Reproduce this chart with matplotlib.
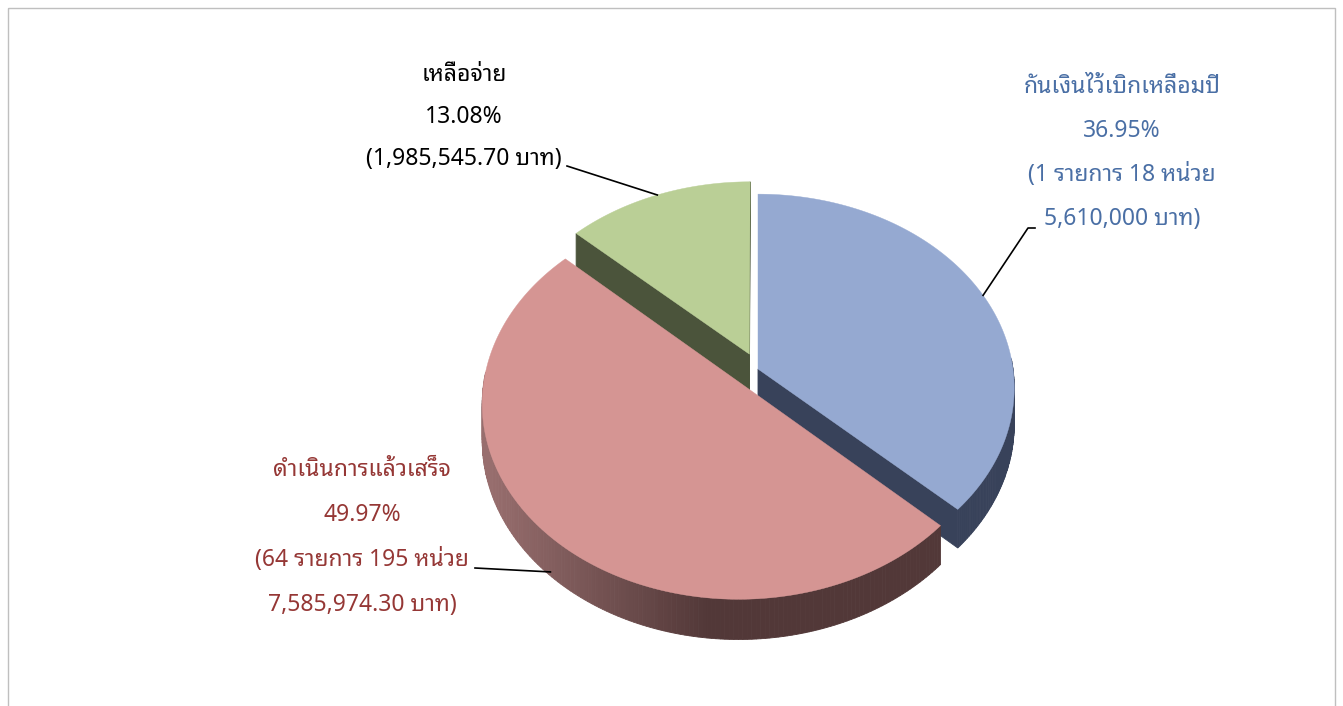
import matplotlib
matplotlib.use("Agg")
import matplotlib.pyplot as plt
from matplotlib import font_manager
from matplotlib.patches import Polygon, Rectangle
import numpy as np

# data
names = ["กันเงินไว้เบิกเหลื่อมปี", "ดำเนินการแล้วเสร็จ", "เหลือจ่าย"]
amounts = [5610000.00, 7585974.30, 1985545.70]
details = ["(1 รายการ 18 หน่วย", "(64 รายการ 195 หน่วย", ""]

# style
top_colors = ["#95A9D1", "#D59593", "#BACF96"]
wall_colors = ["#38425A", "#5A3C3C", "#4B543B"]
text_colors = ["#4A6FA5", "#953735", "#000000"]
explode = [0.0, 0.10, 0.085]

wanted = ["Noto Sans", "Noto Sans Thai Looped", "Noto Sans Thai", "Sarabun", "DejaVu Sans"]
have = {f.name for f in font_manager.fontManager.ttflist}
plt.rcParams["font.family"] = [f for f in wanted if f in have]

W, H = 1343, 706
fig = plt.figure(figsize=(W / 100, H / 100), dpi=100)
ax = fig.add_axes([0, 0, 1, 1])
ax.set_xlim(0, W)
ax.set_ylim(H, 0)
ax.axis("off")

ax.add_patch(Rectangle((8, 8), 1327, 720, fill=False, edgecolor="#BFBFBF", linewidth=1))

# 3d pie geometry (pixel space)
cx, cy, a, b, p, depth = 758, 369, 255, 192, 0.098, 36


def proj(X, Z, h=0.0):
    s = 1.0 / (1.0 + p * Z)
    return cx + a * X * s, cy - b * Z * s + depth * h * s


total = sum(amounts)
fracs = [v / total for v in amounts]
starts = np.cumsum([0] + fracs[:-1]) * 2 * np.pi
ends = starts + np.array(fracs) * 2 * np.pi

walls = []   # (zdepth, polygon, color)
tops = []
anchors = []
for i in range(len(amounts)):
    t0, t1 = starts[i], ends[i]
    mid = (t0 + t1) / 2
    ox, oz = explode[i] * np.sin(mid), explode[i] * np.cos(mid)
    th = np.linspace(t0, t1, 200)
    arc = [proj(ox + np.sin(t), oz + np.cos(t)) for t in th]
    tops.append((Polygon([proj(ox, oz)] + arc, closed=True), top_colors[i]))

    # outer wall, in small strips so it can be shaded
    for j in range(len(th) - 1):
        if np.cos(th[j]) > 0.05 and np.cos(th[j + 1]) > 0.05:
            continue
        pts = [proj(ox + np.sin(th[j]), oz + np.cos(th[j]), 0),
               proj(ox + np.sin(th[j + 1]), oz + np.cos(th[j + 1]), 0),
               proj(ox + np.sin(th[j + 1]), oz + np.cos(th[j + 1]), 1),
               proj(ox + np.sin(th[j]), oz + np.cos(th[j]), 1)]
        col = wall_colors[i]
        if i == 1:
            u = np.clip((pts[0][0] - 490) / 220.0, 0, 1)
            c0 = np.array([152, 110, 110]) / 255
            c1 = np.array([82, 56, 56]) / 255
            col = tuple(c0 + (c1 - c0) * u)
        walls.append((oz + np.cos(th[j]), pts, col))

    # radial walls with back-face test
    for t, sign in ((t0, -1), (t1, 1)):
        nx, nz = sign * np.cos(t), -sign * np.sin(t)
        px, pz = ox + 0.5 * np.sin(t), oz + 0.5 * np.cos(t)
        if nx * (0 - px) + nz * (-1 / p - pz) <= 1e-6:
            continue
        pts = [proj(ox, oz, 0), proj(ox + np.sin(t), oz + np.cos(t), 0),
               proj(ox + np.sin(t), oz + np.cos(t), 1), proj(ox, oz, 1)]
        walls.append((pz, pts, wall_colors[i]))

    anchors.append((ox, oz, mid))

for z, pts, col in sorted(walls, key=lambda w: -w[0]):
    ax.add_patch(Polygon(pts, closed=True, facecolor=col, edgecolor=col, linewidth=0.6))
for poly, col in tops:
    poly.set_facecolor(col)
    poly.set_edgecolor(col)
    poly.set_linewidth(0.3)
    ax.add_patch(poly)

# labels
label_pos = [(1122, 87), (362, 470), (464, 75)]
line_gap = [44, 45, 42]
leader_from = [[(1035, 228), (1028, 228)], [(475, 568)], [(567, 166)]]
leader_h = [0.0, 0.9, 0.0]
fs = 16.5

for i in range(len(amounts)):
    amt = f"{amounts[i]:,.2f}"
    if amt.endswith(".00"):
        amt = amt[:-3]
    lines = [names[i], f"{fracs[i] * 100:.2f}%"]
    if details[i]:
        lines += [details[i], f"{amt} บาท)"]
    else:
        lines += [f"({amt} บาท)"]
    x0, y0 = label_pos[i]
    for k, s in enumerate(lines):
        ax.text(x0, y0 + k * line_gap[i], s, ha="center", va="center",
                fontsize=fs, color=text_colors[i])
    ox, oz, mid = anchors[i]
    ex, ey = proj(ox + np.sin(mid), oz + np.cos(mid), leader_h[i])
    pts = leader_from[i] + [(ex, ey)]
    ax.plot([q[0] for q in pts], [q[1] for q in pts], color="black", linewidth=1.2)

fig.savefig("out.png", dpi=100)
